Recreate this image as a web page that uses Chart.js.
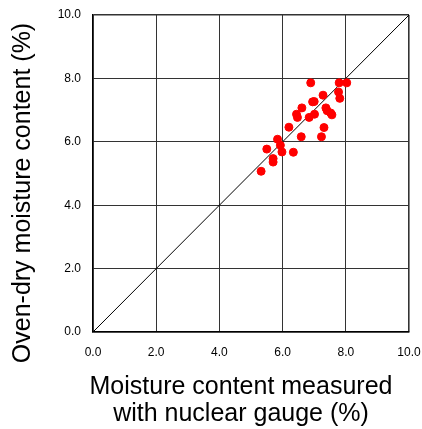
<!DOCTYPE html>
<html>
<head>
<meta charset="utf-8">
<script src="https://cdn.jsdelivr.net/npm/chart.js@4/dist/chart.umd.min.js"></script>
<style>
  body { margin: 0; background: #fff; }
</style>
</head>
<body>
<canvas id="moisture" width="422" height="429"></canvas>
<script>
// nuclear gauge reading vs oven-dry moisture (%)
const gaugeX = [6.89, 7.79, 8.03, 7.77, 7.81, 7.28, 6.95, 7.0, 6.61, 6.44, 6.47, 6.84, 7.01, 7.37, 7.41,
    7.52, 7.56, 6.2, 7.31, 7.23, 6.59, 5.84, 5.93, 5.5, 5.98, 6.34, 5.7, 5.7, 5.32];
const ovenY = [7.86, 7.86, 7.86, 7.57, 7.37, 7.47, 7.26, 7.27, 7.07, 6.87, 6.77, 6.77, 6.87, 7.07, 6.98,
    6.91, 6.85, 6.46, 6.45, 6.16, 6.16, 6.08, 5.89, 5.77, 5.68, 5.67, 5.47, 5.36, 5.07];
const lineEnds = [0, 10];
const xTitle = ['Moisture content measured', 'with nuclear gauge (%)'];
const yTitle = 'Oven-dry moisture content (%)';

const points = gaugeX.map((x, i) => ({ x, y: ovenY[i] }));
const diag = lineEnds.map(v => ({ x: v, y: v }));

const tickFont = { family: 'Liberation Sans', size: 12 };

// axis titles are drawn by hand so they sit where the original has them
const axisTitles = {
    id: 'axisTitles',
    afterDraw(chart) {
        const ctx = chart.ctx;
        ctx.save();
        ctx.fillStyle = '#000';
        ctx.font = '25px "Liberation Sans"';
        ctx.textAlign = 'center';
        ctx.textBaseline = 'alphabetic';
        ctx.fillText(xTitle[0], 241, 394);
        ctx.fillText(xTitle[1], 241, 421);
        ctx.translate(30, 193);
        ctx.rotate(-Math.PI / 2);
        ctx.fillText(yTitle, 0, 0);
        ctx.restore();
    }
};

const edgeWidth = ctx => (ctx.tick && (ctx.tick.value === 0 || ctx.tick.value === 10)) ? 1.6 : 1;

new Chart(document.getElementById('moisture').getContext('2d'), {
    type: 'scatter',
    data: {
        datasets: [{
            data: points,
            backgroundColor: '#ff0000',
            borderColor: '#ff0000',
            pointRadius: 4,
            pointHoverRadius: 4,
            order: 1
        }, {
            data: diag,
            showLine: true,
            borderColor: '#000',
            borderWidth: 1,
            pointRadius: 0,
            order: 2
        }]
    },
    options: {
        responsive: false,
        animation: false,
        layout: {
            padding: { top: 15, right: 13, left: 0, bottom: 0 }
        },
        plugins: {
            legend: { display: false },
            tooltip: { enabled: false }
        },
        scales: {
            x: {
                min: 0,
                max: 10,
                ticks: {
                    stepSize: 2,
                    color: '#000',
                    font: tickFont,
                    padding: 13,
                    callback: v => v.toFixed(1)
                },
                grid: {
                    color: '#333',
                    lineWidth: edgeWidth,
                    drawTicks: false
                },
                border: { color: '#000', width: 1.6 },
                afterFit: scale => {
                    scale.height = 97;
                    scale.paddingLeft = 0;
                    scale.paddingRight = 0;
                }
            },
            y: {
                min: 0,
                max: 10,
                ticks: {
                    stepSize: 2,
                    color: '#000',
                    font: tickFont,
                    padding: 12,
                    callback: v => v.toFixed(1)
                },
                grid: {
                    color: '#333',
                    lineWidth: edgeWidth,
                    drawTicks: false
                },
                border: { color: '#000', width: 1.6 },
                afterFit: scale => {
                    scale.width = 93;
                    scale.paddingTop = 0;
                    scale.paddingBottom = 0;
                }
            }
        }
    },
    plugins: [axisTitles]
});
</script>
</body>
</html>
